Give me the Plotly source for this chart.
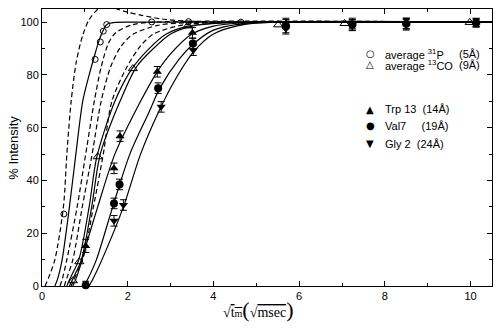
import plotly.graph_objects as go

# ---- measured points -------------------------------------------------------
p31_x = [0.51, 1.24, 1.36, 1.43, 1.51, 2.56, 3.42, 4.64]
p31_y = [27.3, 85.9, 92.5, 96.6, 99.1, 100.1, 100.2, 100.0]

co13_x = [0.72, 0.87, 1.30, 2.12, 3.40, 5.51, 7.06, 9.98]
co13_y = [2.0, 9.2, 49.0, 82.4, 98.6, 99.0, 99.5, 99.9]

trp_x = [1.02, 1.68, 1.82, 2.69, 3.51, 5.69, 7.24, 8.50, 10.13]
trp_y = [15.2, 44.6, 56.8, 81.2, 96.0, 99.5, 99.5, 99.6, 100.0]
trp_err = [2.5, 2.0, 2.0, 2.0, 2.0, 2.0, 2.0, 2.0, 1.5]

val_x = [1.02, 1.68, 1.81, 2.71, 3.52, 5.69, 7.24, 8.50, 10.13]
val_y = [0.3, 31.3, 38.5, 75.0, 91.9, 98.5, 99.0, 99.4, 99.8]
val_err = [1.5, 2.0, 2.0, 2.0, 2.0, 2.5, 2.0, 2.0, 1.5]

gly_x = [1.68, 1.90, 2.78, 3.53, 5.69, 7.24, 8.50, 10.13]
gly_y = [24.7, 30.7, 67.9, 89.4, 97.5, 98.8, 99.0, 99.6]
gly_err = [2.0, 2.0, 2.0, 2.0, 2.0, 2.0, 2.0, 1.5]

# ---- fitted build-up curves (points along each curve) ----------------------
fit_solid = {
    "31P": ([0.30, 0.37, 0.47, 0.64, 0.79, 0.95, 1.10, 1.22, 1.33, 1.43, 1.52, 1.70, 2.20, 10.5],
            [0, 3, 10, 30, 50, 70, 80, 87, 93, 97, 99.2, 99.9, 100, 100]),
    "13CO a": ([0.58, 0.66, 0.86, 1.10, 1.28, 1.70, 2.10, 2.50, 2.90, 3.40, 4.00, 5.00, 10.5],
               [0, 3, 10, 30, 49, 70, 82.4, 90, 95.5, 98.5, 99.6, 100, 100]),
    "13CO b": ([0.64, 0.73, 0.92, 1.16, 1.36, 1.82, 2.20, 2.60, 3.00, 3.50, 4.20, 5.20, 10.5],
               [0, 3, 10, 30, 50, 70, 83, 90, 95.5, 98.5, 99.7, 100, 100]),
    "Trp13": ([0.72, 0.80, 0.90, 1.02, 1.30, 1.70, 2.30, 2.68, 3.00, 3.50, 4.00, 4.60, 5.50, 10.5],
              [0, 3, 8, 15, 30, 50, 70, 81, 88, 95.5, 98.5, 99.7, 100, 100]),
    "Val7": ([0.98, 1.08, 1.27, 1.65, 2.05, 2.50, 2.75, 3.20, 3.55, 4.00, 4.60, 5.30, 10.5],
             [0, 3, 10, 30, 50, 66, 75, 86, 92, 97, 99.3, 100, 100]),
    "Gly2": ([1.10, 1.20, 1.40, 1.90, 2.30, 2.75, 3.10, 3.55, 4.00, 4.60, 5.40, 10.5],
             [0, 3, 10, 30, 50, 67, 78, 89, 95.5, 98.8, 100, 100]),
}

fit_dashed = {
    "31P alt 1": ([0.07, 0.15, 0.30, 0.50, 0.58, 0.68, 0.80, 0.95, 1.10, 1.31, 1.50, 1.75, 2.00,
                   2.30, 2.80, 3.40, 4.50, 10.5],
                  [0, 3, 10, 30, 50, 70, 85, 95, 101, 105, 106.3, 105, 103.8,
                   102.7, 101.2, 100.4, 100, 100]),
    "31P alt 2": ([0.42, 0.48, 0.58, 0.82, 1.02, 1.22, 1.38, 1.55, 1.72, 2.10, 2.60, 10.5],
                  [0, 3, 10, 30, 50, 70, 83, 92, 96, 99, 100, 100]),
    "13CO alt 1": ([0.52, 0.58, 0.72, 0.94, 1.17, 1.38, 1.60, 1.85, 2.13, 2.70, 3.40, 4.50, 10.5],
                   [0, 3, 10, 30, 50, 70, 83, 91, 95.5, 98.8, 99.8, 100, 100]),
    "13CO alt 2": ([0.68, 0.76, 0.95, 1.20, 1.43, 1.63, 1.98, 2.30, 2.60, 3.30, 4.00, 5.00, 10.5],
                   [0, 3, 10, 30, 50, 70, 83, 91, 95.5, 99, 99.8, 100, 100]),
}

x_ticks = [0, 2, 4, 6, 8, 10]
y_ticks = [0, 20, 40, 60, 80, 100]

fig = go.Figure()

for name, (xs, ys) in fit_solid.items():
    fig.add_trace(go.Scatter(x=xs, y=ys, mode="lines", name=name,
                             line=dict(color="black", width=1.2, shape="spline", smoothing=0.8)))
for name, (xs, ys) in fit_dashed.items():
    fig.add_trace(go.Scatter(x=xs, y=ys, mode="lines", name=name,
                             line=dict(color="black", width=1.2, dash="5px,3px",
                                       shape="spline", smoothing=0.8)))

fig.add_trace(go.Scatter(x=p31_x, y=p31_y, mode="markers", cliponaxis=False,
                         marker=dict(symbol="circle-open", size=6, color="black",
                                     line=dict(width=1))))
fig.add_trace(go.Scatter(x=co13_x, y=co13_y, mode="markers", cliponaxis=False,
                         marker=dict(symbol="triangle-up-open", size=8, color="black",
                                     line=dict(width=1))))

err_style = dict(type="data", thickness=1, width=3.5, color="black")
fig.add_trace(go.Scatter(x=trp_x, y=trp_y, mode="markers", cliponaxis=False,
                         error_y=dict(array=trp_err, **err_style),
                         marker=dict(symbol="triangle-up", size=8, color="black")))
fig.add_trace(go.Scatter(x=val_x, y=val_y, mode="markers", cliponaxis=False,
                         error_y=dict(array=val_err, **err_style),
                         marker=dict(symbol="circle", size=8, color="black")))
fig.add_trace(go.Scatter(x=gly_x, y=gly_y, mode="markers", cliponaxis=False,
                         error_y=dict(array=gly_err, **err_style),
                         marker=dict(symbol="triangle-down", size=8, color="black")))

# ---- key, written as text in the upper right --------------------------------
key_font = dict(family="Liberation Sans, Arial, sans-serif", size=11, color="black")
sym_font = dict(family="DejaVu Sans", size=10, color="black")
rows = [
    ("○", "average <sup>31</sup>P", "(5Å)", 0.838),
    ("△", "average <sup>13</sup>CO", "(9Å)", 0.798),
    ("▲", "Trp 13  (14Å)", None, 0.638),
    ("●", "Val7     (19Å)", None, 0.578),
    ("▼", "Gly 2  (24Å)", None, 0.513),
]
for sym, label, dist, yy in rows:
    fig.add_annotation(x=0.729, y=yy, xref="paper", yref="paper", text=sym,
                       showarrow=False, font=sym_font, xanchor="center", yanchor="middle")
    fig.add_annotation(x=0.758, y=yy, xref="paper", yref="paper", text=label,
                       showarrow=False, font=key_font, xanchor="left", yanchor="middle")
    if dist:
        fig.add_annotation(x=0.922, y=yy, xref="paper", yref="paper", text=dist,
                           showarrow=False, font=key_font, xanchor="left", yanchor="middle")

# ---- axis titles ------------------------------------------------------------
fig.add_annotation(x=-0.085, y=0.5, xref="paper", yref="paper", text="% Intensity",
                   textangle=-90, showarrow=False,
                   font=dict(family="Liberation Sans, Arial, sans-serif", size=13, color="black"))
fig.add_annotation(
    x=0.48, y=-0.085, xref="paper", yref="paper", yanchor="middle", showarrow=False,
    font=dict(family="Liberation Serif, Times New Roman, serif", size=14, color="black"),
    text=("√<span style='text-decoration:overline'>t<span style='font-size:10px'>m</span></span>"
          "<span style='font-size:22px'>(</span>√<span style='text-decoration:overline'>msec</span>"
          "<span style='font-size:22px'>)</span>"))

axis_common = dict(showline=True, linecolor="black", linewidth=1, mirror="allticks",
                   ticks="inside", ticklen=5, tickwidth=1, tickcolor="black",
                   showgrid=False, zeroline=False,
                   tickfont=dict(family="Liberation Sans, Arial, sans-serif", size=11,
                                 color="black"))

fig.update_layout(
    width=500, height=328,
    margin=dict(l=42, r=8, t=9, b=42),
    paper_bgcolor="white", plot_bgcolor="white",
    showlegend=False,
    xaxis=dict(range=[0, 10.5], tickvals=x_ticks,
               minor=dict(ticks="inside", dtick=1, tick0=0, ticklen=3, tickcolor="black"),
               **axis_common),
    yaxis=dict(range=[0, 105], tickvals=y_ticks,
               minor=dict(ticks="inside", dtick=10, tick0=0, ticklen=3, tickcolor="black"),
               **axis_common),
)

fig.write_html("out.html")
